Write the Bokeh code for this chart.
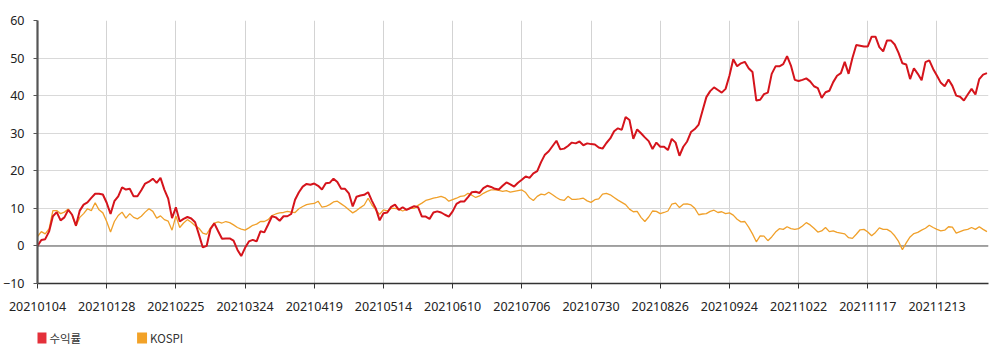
from bokeh.plotting import figure
from bokeh.layouts import column
from bokeh.models import Range1d, FixedTicker, Span
from bokeh.core.properties import value
from bokeh.embed import file_html
from bokeh.resources import INLINE

tick_labels = ["20210104", "20210128", "20210225", "20210324", "20210419", "20210514",
               "20210610", "20210706", "20210730", "20210826", "20210924", "20211022",
               "20211117", "20211213"]
tick_step = 18

y_ticks = [-10, 0, 10, 20, 30, 40, 50, 60]

series_names = ["수익률", "KOSPI"]

returns = [
    0.0, 1.6, 1.8, 3.8, 7.9, 9.0, 6.8, 7.6, 9.6, 8.3,
    5.4, 9.4, 11.0, 11.6, 12.8, 13.9, 13.9, 13.7, 11.5, 8.5,
    11.9, 13.2, 15.6, 15.0, 15.2, 13.2, 13.2, 14.8, 16.6, 17.1,
    17.9, 16.8, 18.1, 15.0, 12.6, 7.4, 10.3, 6.5, 7.2, 7.7,
    7.3, 6.3, 3.0, -0.4, 0.0, 4.5, 6.0, 3.9, 1.9, 2.0,
    2.0, 1.4, -1.0, -2.7, -0.5, 1.2, 1.6, 1.2, 3.9, 3.6,
    5.7, 7.9, 7.6, 6.7, 7.9, 7.9, 8.5, 12.3, 14.3, 15.8,
    16.5, 16.3, 16.6, 16.0, 15.0, 16.7, 16.8, 17.9, 17.0, 15.2,
    15.2, 14.0, 10.5, 13.1, 13.4, 13.6, 14.3, 12.0, 10.0, 6.8,
    8.7, 8.9, 10.4, 11.0, 9.6, 10.3, 9.6, 10.1, 10.6, 10.3,
    7.8, 7.8, 7.2, 8.9, 9.2, 8.9, 8.3, 7.8, 9.2, 11.2,
    11.8, 11.8, 13.0, 14.3, 14.4, 14.1, 15.4, 16.0, 15.7, 15.2,
    15.0, 16.0, 16.9, 16.4, 15.8, 16.8, 17.6, 18.5, 18.1, 19.3,
    19.9, 22.3, 24.3, 25.2, 26.6, 28.0, 25.7, 25.9, 26.6, 27.5,
    27.3, 27.8, 26.8, 27.3, 27.1, 27.0, 26.2, 25.9, 27.4, 28.6,
    30.5, 31.3, 30.9, 34.3, 33.5, 28.5, 31.0, 30.0, 28.9, 27.9,
    25.8, 27.5, 26.4, 26.4, 25.5, 28.5, 27.5, 24.0, 26.4, 27.8,
    30.3, 31.1, 32.3, 36.0, 39.6, 41.2, 42.2, 41.5, 40.8, 41.8,
    45.3, 49.7, 47.8, 48.6, 49.0, 47.3, 46.3, 38.7, 38.9, 40.4,
    40.8, 45.8, 47.8, 47.8, 48.4, 50.5, 48.0, 44.2, 43.9, 44.2,
    44.6, 43.8, 42.5, 42.0, 39.4, 40.9, 41.3, 43.6, 45.3, 46.0,
    49.0, 45.8, 50.0, 53.5, 53.3, 53.1, 53.1, 55.7, 55.7, 52.9,
    51.8, 54.7, 54.7, 53.6, 51.4, 48.6, 48.3, 44.4, 47.3, 45.8,
    44.1, 48.9, 49.4, 47.1, 45.3, 43.4, 42.5, 44.3, 42.6, 40.0,
    39.7, 38.7, 40.3, 41.8, 40.3, 44.4, 45.6, 46.0,
]

kospi = [
    2.5, 3.8, 3.2, 4.5, 9.4, 9.4, 8.6, 9.0, 9.8, 8.3,
    5.3, 7.6, 8.6, 9.9, 9.4, 11.5, 9.6, 8.8, 6.5, 3.7,
    6.5, 8.1, 9.0, 7.4, 8.6, 7.6, 7.2, 7.9, 9.0, 9.9,
    9.2, 7.4, 8.0, 7.0, 6.6, 4.2, 8.0, 4.9, 6.1, 7.0,
    6.3, 5.4, 4.7, 3.4, 3.1, 4.8, 6.1, 6.4, 6.1, 6.5,
    6.2, 5.6, 4.9, 4.5, 4.2, 4.8, 5.5, 5.8, 6.5, 6.5,
    7.0, 8.1, 8.5, 8.8, 8.9, 9.2, 9.0, 8.9, 9.9, 10.5,
    11.0, 11.2, 11.3, 11.9, 10.3, 10.5, 11.0, 11.7, 11.9, 11.2,
    10.5, 9.6, 8.8, 9.4, 10.2, 10.9, 12.7, 10.9, 9.6, 8.4,
    9.6, 9.3, 10.0, 10.0, 9.8, 9.3, 9.7, 10.0, 10.0, 10.8,
    11.4, 12.1, 12.4, 12.7, 12.9, 13.2, 12.8, 11.9, 12.3, 12.7,
    13.2, 13.3, 14.0, 13.5, 12.9, 13.3, 14.0, 14.5, 14.9, 14.9,
    14.8, 14.5, 14.7, 14.3, 14.5, 14.7, 14.9, 14.2, 12.8, 12.1,
    13.2, 13.8, 13.6, 14.3, 13.6, 12.9, 12.3, 12.1, 13.2, 12.4,
    12.4, 12.5, 12.7, 12.0, 11.6, 12.3, 12.5, 13.8, 14.0, 13.6,
    12.9, 12.2, 11.6, 11.0, 9.8, 9.1, 9.2, 7.6, 6.5, 7.7,
    9.3, 9.2, 8.6, 8.9, 9.3, 11.1, 11.4, 10.2, 11.1, 11.2,
    10.9, 10.0, 8.3, 8.5, 8.6, 9.2, 9.5, 8.9, 9.1, 8.6,
    8.8, 8.2, 7.1, 6.4, 6.5, 5.0, 3.2, 1.1, 2.7, 2.6,
    1.4, 2.4, 3.7, 4.6, 4.4, 5.1, 4.6, 4.4, 4.6, 5.3,
    6.2, 5.6, 4.7, 3.7, 4.0, 4.9, 3.8, 4.0, 3.6, 3.4,
    3.2, 2.2, 2.0, 3.1, 4.3, 4.4, 3.7, 2.7, 3.6, 4.8,
    4.4, 4.4, 3.8, 2.7, 1.2, -1.0, 0.8, 2.4, 3.3, 3.6,
    4.2, 4.7, 5.5, 4.9, 4.4, 4.0, 4.2, 5.1, 5.0, 3.4,
    3.8, 4.2, 4.4, 4.9, 4.4, 5.1, 4.4, 3.8,
]

x = list(range(len(returns)))

RED = "#d5141c"
ORANGE = "#f0a02a"
RED_SQ = "#e4303a"
ORANGE_SQ = "#f2a228"

FRAME_LEFT = 33
FRAME_RIGHT_BORDER = 12
WIDTH = 1000

p = figure(width=WIDTH, height=320, output_backend="svg", toolbar_location=None,
           title=None,
           x_range=Range1d(0, 247.4), y_range=Range1d(-10, 60),
           min_border_left=FRAME_LEFT, min_border_right=FRAME_RIGHT_BORDER,
           min_border_top=20, min_border_bottom=37)
p.outline_line_color = None
p.background_fill_color = "white"
p.border_fill_color = "white"

# grid
p.xgrid.grid_line_color = "#d3d3d3"
p.xgrid.grid_line_width = 1
p.ygrid.grid_line_color = "#d9d9d9"
p.ygrid.grid_line_width = 1

zero = Span(location=0, dimension="width", line_color="#8a8a8a", line_width=1.5, level="underlay")
p.add_layout(zero)

p.line(x, kospi, line_color=ORANGE, line_width=1.3)
p.line(x, returns, line_color=RED, line_width=2)

# axes
xt = [tick_step * i for i in range(len(tick_labels))]
p.xaxis.ticker = FixedTicker(ticks=xt)
p.xaxis.major_label_overrides = {t: lab for t, lab in zip(xt, tick_labels)}
p.xaxis.minor_tick_line_color = None
p.xaxis.major_tick_in = 0
p.xaxis.major_tick_out = 5
p.xaxis.major_tick_line_color = "#333333"
p.xaxis.axis_line_color = "#333333"
p.xaxis.axis_line_width = 1.5
p.xaxis.major_label_standoff = 13
p.xaxis.major_label_text_font = "Noto Sans"
p.xaxis.major_label_text_font_size = "12.5px"
p.xaxis.major_label_text_color = "#222222"

p.yaxis.ticker = FixedTicker(ticks=y_ticks)
p.yaxis.minor_tick_line_color = None
p.yaxis.major_tick_in = 0
p.yaxis.major_tick_out = 4
p.yaxis.major_tick_line_color = "#555555"
p.yaxis.axis_line_color = "#555555"
p.yaxis.axis_line_width = 2.2
p.yaxis.major_label_standoff = 9
p.yaxis.major_label_text_font = "Noto Sans"
p.yaxis.major_label_text_font_size = "12.5px"
p.yaxis.major_label_text_color = "#222222"

# legend strip: a small figure whose data units are page pixels
# (its frame is aligned with the main frame by the column layout)
leg = figure(width=WIDTH, height=36, output_backend="svg", toolbar_location=None,
             title=None, x_range=Range1d(FRAME_LEFT, WIDTH - FRAME_RIGHT_BORDER),
             y_range=Range1d(36, 0),
             x_axis_type=None, y_axis_type=None,
             min_border_left=FRAME_LEFT, min_border_right=FRAME_RIGHT_BORDER,
             min_border_top=0, min_border_bottom=0)
leg.outline_line_color = None
leg.xgrid.visible = False
leg.ygrid.visible = False
leg.background_fill_color = "white"
leg.border_fill_color = "white"

swatch_x = [37, 138]
swatch_y = [17.5, 17.5]
leg.rect(x=swatch_x, y=swatch_y, width=10, height=11,
         fill_color=[RED_SQ, ORANGE_SQ], line_color=None)
leg.text(x=[sx + 8 for sx in swatch_x], y=swatch_y, text=series_names,
         text_font=value("Noto Sans CJK KR"), text_font_size="11.5px",
         text_color="#333333", text_baseline="middle", text_align="left")

layout = column(p, leg, spacing=0)

open("out.html", "w").write(file_html(layout, INLINE))
